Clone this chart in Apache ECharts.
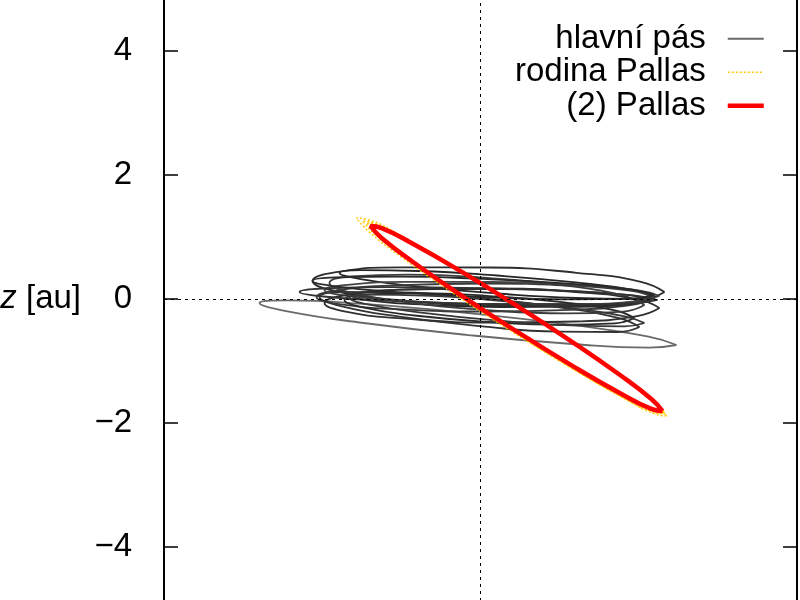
<!DOCTYPE html>
<html>
<head>
<meta charset="utf-8">
<script src="https://cdn.jsdelivr.net/npm/echarts@6/dist/echarts.min.js"></script>
<style>html,body{margin:0;padding:0;background:#fff}#c{width:800px;height:600px}</style>
</head>
<body>
<div id="c"></div>
<script>
// ---- data (x [au], z [au]) ----
const seriesNames = ['hlavní pás', 'rodina Pallas', '(2) Pallas'];
const yTickValues = [-6, -4, -2, 0, 2, 4, 6];

const belt1 = [[3.161,-0.742],[2.711,-0.785],[1.480,-0.726],[-0.202,-0.581],[-1.883,-0.387],[-3.114,-0.199],[-3.565,-0.065],[-3.114,-0.021],[-1.883,-0.080],[-0.202,-0.226],[1.480,-0.419],[2.711,-0.608],[3.161,-0.742]];
const belt2 = [[2.968,0.113],[2.587,-0.028],[1.548,-0.108],[0.129,-0.105],[-1.290,-0.019],[-2.329,0.125],[-2.710,0.290],[-2.329,0.432],[-1.290,0.511],[0.129,0.508],[1.548,0.423],[2.587,0.278],[2.968,0.113]];
const belt3 = [[2.565,-0.452],[2.219,-0.532],[1.274,-0.526],[-0.016,-0.436],[-1.306,-0.284],[-2.251,-0.113],[-2.597,0.032],[-2.251,0.113],[-1.306,0.107],[-0.016,0.016],[1.274,-0.135],[2.219,-0.306],[2.565,-0.452]];
const belt4 = [[2.806,0.048],[2.466,0.001],[1.536,0.016],[0.266,0.089],[-1.004,0.201],[-1.934,0.322],[-2.274,0.419],[-1.934,0.467],[-1.004,0.452],[0.266,0.379],[1.536,0.267],[2.466,0.146],[2.806,0.048]];
const belt5 = [[2.806,0.016],[2.441,-0.096],[1.444,-0.175],[0.081,-0.202],[-1.282,-0.167],[-2.280,-0.082],[-2.645,0.032],[-2.280,0.144],[-1.282,0.224],[0.081,0.250],[1.444,0.216],[2.441,0.130],[2.806,0.016]];
const belt6 = [[2.726,-0.016],[2.405,-0.085],[1.528,-0.126],[0.331,-0.129],[-0.867,-0.094],[-1.744,-0.029],[-2.065,0.048],[-1.744,0.117],[-0.867,0.158],[0.331,0.161],[1.528,0.126],[2.405,0.061],[2.726,-0.016]];
const belt7 = [[2.887,0.048],[2.525,-0.034],[1.536,-0.081],[0.186,-0.081],[-1.165,-0.033],[-2.154,0.050],[-2.516,0.145],[-2.154,0.227],[-1.165,0.275],[0.186,0.274],[1.536,0.226],[2.525,0.144],[2.887,0.048]];
const belt8 = [[2.484,-0.307],[2.171,-0.392],[1.315,-0.416],[0.145,-0.371],[-1.024,-0.270],[-1.880,-0.140],[-2.194,-0.016],[-1.880,0.069],[-1.024,0.093],[0.145,0.048],[1.315,-0.052],[2.171,-0.182],[2.484,-0.307]];
const belt9 = [[2.855,-0.016],[2.468,-0.072],[1.411,-0.096],[-0.032,-0.081],[-1.476,-0.031],[-2.533,0.040],[-2.919,0.113],[-2.533,0.169],[-1.476,0.192],[-0.032,0.177],[1.411,0.128],[2.468,0.057],[2.855,-0.016]];
const belt10 = [[2.645,-0.097],[2.305,-0.202],[1.375,-0.232],[0.105,-0.178],[-1.165,-0.054],[-2.095,0.105],[-2.436,0.258],[-2.095,0.363],[-1.165,0.393],[0.105,0.339],[1.375,0.215],[2.305,0.056],[2.645,-0.097]];
const belt11 = [[2.887,-0.145],[2.525,-0.277],[1.536,-0.363],[0.186,-0.379],[-1.165,-0.322],[-2.154,-0.207],[-2.516,-0.065],[-2.154,0.067],[-1.165,0.153],[0.186,0.169],[1.536,0.113],[2.525,-0.003],[2.887,-0.145]];
const belt12 = [[2.807,0.065],[2.437,0.007],[1.427,-0.005],[0.048,0.032],[-1.331,0.108],[-2.340,0.203],[-2.710,0.290],[-2.340,0.348],[-1.331,0.360],[0.048,0.323],[1.427,0.247],[2.437,0.152],[2.807,0.065]];
const belt13 = [[2.645,-0.387],[2.326,-0.441],[1.456,-0.426],[0.266,-0.347],[-0.923,-0.224],[-1.794,-0.092],[-2.113,0.016],[-1.794,0.070],[-0.923,0.055],[0.266,-0.024],[1.456,-0.147],[2.326,-0.280],[2.645,-0.387]];

const pallasOrbit = [[2.935,-1.806],[2.756,-1.773],[2.245,-1.516],[1.483,-1.078],[0.581,-0.523],[-0.321,0.065],[-1.084,0.593],[-1.595,0.984],[-1.774,1.177],[-1.595,1.144],[-1.084,0.887],[-0.321,0.449],[0.581,-0.106],[1.483,-0.694],[2.245,-1.222],[2.756,-1.613],[2.935,-1.806]];
const family1 = [[2.984,-1.855],[2.794,-1.827],[2.254,-1.563],[1.446,-1.103],[0.492,-0.516],[-0.463,0.108],[-1.270,0.672],[-1.811,1.094],[-2.000,1.306],[-1.811,1.279],[-1.270,1.014],[-0.463,0.555],[0.492,-0.032],[1.446,-0.656],[2.254,-1.221],[2.794,-1.642],[2.984,-1.855]];
const family2 = [[2.952,-1.839],[2.767,-1.804],[2.240,-1.539],[1.454,-1.085],[0.524,-0.508],[-0.406,0.102],[-1.192,0.651],[-1.719,1.057],[-1.903,1.258],[-1.719,1.224],[-1.192,0.958],[-0.406,0.504],[0.524,-0.073],[1.454,-0.682],[2.240,-1.231],[2.767,-1.638],[2.952,-1.839]];
const family3 = [[3.000,-1.887],[2.816,-1.855],[2.291,-1.591],[1.507,-1.135],[0.581,-0.556],[-0.346,0.057],[-1.130,0.610],[-1.655,1.021],[-1.839,1.226],[-1.655,1.194],[-1.130,0.929],[-0.346,0.474],[0.581,-0.105],[1.507,-0.718],[2.291,-1.271],[2.816,-1.682],[3.000,-1.887]];

const beltOrbits = [belt1, belt2, belt3, belt4, belt5, belt6, belt7, belt8, belt9, belt10, belt11, belt12, belt13];
const familyOrbits = [family1, family2, family3];

// ---- styles ----
const FONT = '"Liberation Sans", Arial, Helvetica, sans-serif';
const beltColors = ['#6a6a6a', '#2e2e2e', '#333333', '#262626', '#3a3a3a', '#2b2b2b', '#444444', '#2a2a2a', '#333333', '#3c3c3c', '#303030', '#2a2a2a', '#383838'];

const series = [];
series.push({
  type: 'line', name: '_axes', data: [], silent: true, z: 1,
  markLine: {
    silent: true, symbol: ['none', 'none'], animation: false,
    label: {show: false},
    lineStyle: {color: '#000', width: 1, type: [3, 4]},
    emphasis: {disabled: true},
    data: [{xAxis: 0}, {yAxis: 0}]
  }
});
beltOrbits.forEach((o, i) => series.push({
  type: 'line', name: seriesNames[0], data: o, smooth: 0.5, symbol: 'none',
  lineStyle: {color: beltColors[i], width: 1.8}, itemStyle: {color: beltColors[i]}, z: 2, silent: true
}));
familyOrbits.forEach(o => series.push({
  type: 'line', name: seriesNames[1], data: o, smooth: 0.5, symbol: 'none',
  lineStyle: {color: '#ffc800', width: 1.4, type: [2, 2]}, itemStyle: {color: '#ffc800'}, z: 3, silent: true
}));
series.push({
  type: 'line', name: seriesNames[2], data: pallasOrbit, smooth: 0.5, symbol: 'none',
  lineStyle: {color: '#ff0000', width: 4.5}, itemStyle: {color: '#ff0000'}, z: 4, silent: true
});

const fmt = v => (v < 0 ? '\u2212' + (-v) : String(v));
const yBase = {
  type: 'value', min: yTickValues[0], max: yTickValues[yTickValues.length - 1], interval: 2,
  axisLine: {show: true, onZero: false, lineStyle: {color: '#000', width: 2}},
  axisTick: {show: true, inside: true, length: 14, lineStyle: {color: '#000', width: 1.5}},
  splitLine: {show: false}
};

const chart = echarts.init(document.getElementById('c'), null, {renderer: 'canvas'});
chart.setOption({
  animation: false,
  backgroundColor: '#ffffff',
  grid: {left: 164, right: 3, top: -73, bottom: -71, containLabel: false, outerBoundsMode: 'none'},
  xAxis: {type: 'value', min: -5.105, max: 5.105, show: false},
  yAxis: [
    Object.assign({}, yBase, {
      position: 'left',
      axisLabel: {show: true, margin: 32, fontSize: 33, color: '#000', fontFamily: FONT, formatter: fmt},
      name: '{i|z} [au]', nameLocation: 'middle', nameRotate: 0, nameGap: 83,
      nameTextStyle: {fontSize: 33, color: '#000', fontFamily: FONT,
        rich: {i: {fontStyle: 'italic', fontSize: 33, color: '#000', fontFamily: FONT}}}
    }),
    Object.assign({}, yBase, {position: 'right', axisLabel: {show: false}})
  ],
  legend: {
    orient: 'vertical', right: 29, top: 17, align: 'right',
    itemWidth: 36, itemHeight: 1, itemGap: 0,
    data: seriesNames,
    selectedMode: false,
    itemStyle: {opacity: 0},
    lineStyle: {width: 'inherit'},
    textStyle: {fontSize: 33, color: '#000', fontFamily: FONT, lineHeight: 33.5, padding: [0, 17, 0, 0]}
  },
  series: series
});
</script>
</body>
</html>
